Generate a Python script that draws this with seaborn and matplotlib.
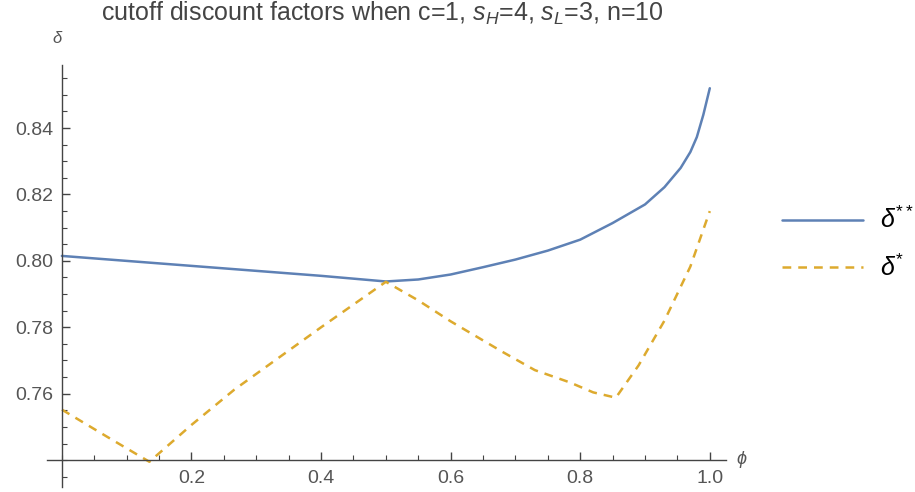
import numpy as np
import pandas as pd
import seaborn as sns
import matplotlib.pyplot as plt
from matplotlib.ticker import MultipleLocator, FormatStrFormatter

# values
phi_dd = [0.0, 0.1, 0.2, 0.3, 0.4, 0.5, 0.55, 0.6, 0.65, 0.7, 0.75, 0.8,
          0.85, 0.9, 0.93, 0.955, 0.97, 0.98, 0.99, 1.0]
delta_dd = [0.8015, 0.8000, 0.7985, 0.7970, 0.7955, 0.7938, 0.7944, 0.7959,
            0.7981, 0.8004, 0.8031, 0.8064, 0.8114, 0.8170, 0.8222, 0.8280,
            0.8328, 0.8373, 0.8440, 0.8520]

phi_d = [0.0, 0.07, 0.135, 0.2, 0.266, 0.4, 0.5, 0.55, 0.6, 0.68, 0.73,
         0.784, 0.82, 0.855, 0.89, 0.93, 0.97, 1.0]
delta_d = [0.7552, 0.7470, 0.7395, 0.7506, 0.7612, 0.7800, 0.7937, 0.7881,
           0.7818, 0.7726, 0.7671, 0.7634, 0.7604, 0.7588, 0.7685, 0.7820,
           0.7983, 0.8150]

title = "cutoff discount factors when c=1, $s_H$=4, $s_L$=3, n=10"
blue = "#5E81B5"
gold = "#DDAA2E"

sns.set_theme(style="white")
plt.rcParams['font.family'] = ['Liberation Sans', 'DejaVu Sans']
plt.rcParams['mathtext.fontset'] = 'custom'
plt.rcParams['mathtext.it'] = 'Liberation Sans:italic'
plt.rcParams['mathtext.rm'] = 'Liberation Sans'

fig = plt.figure(figsize=(9.15, 4.92), dpi=100)
ax = fig.add_axes([47 / 915, 5 / 492, 679 / 915, 422 / 492])

df_dd = pd.DataFrame({"phi": phi_dd, "delta": delta_dd})
df_d = pd.DataFrame({"phi": phi_d, "delta": delta_d})

sns.lineplot(data=df_dd, x="phi", y="delta", ax=ax, color=blue, lw=1.8,
             label=r"$\delta^{**}$", clip_on=False)
sns.lineplot(data=df_d, x="phi", y="delta", ax=ax, color=gold, lw=1.8,
             dashes=(3.5, 2.8), label=r"$\delta^{*}$", clip_on=False)

ax.set_xlim(-0.023, 1.025)
ax.set_ylim(0.7319, 0.859)

for s in ["top", "right"]:
    ax.spines[s].set_visible(False)
ax.spines["left"].set_position(("data", 0))
ax.spines["bottom"].set_position(("data", 0.74))
for s in ["left", "bottom"]:
    ax.spines[s].set_color("#444444")
    ax.spines[s].set_linewidth(1.0)

ax.set_xticks([0.2, 0.4, 0.6, 0.8, 1.0])
ax.set_yticks([0.76, 0.78, 0.80, 0.82, 0.84])
ax.xaxis.set_minor_locator(MultipleLocator(0.05))
ax.yaxis.set_minor_locator(MultipleLocator(0.005))
ax.yaxis.set_major_formatter(FormatStrFormatter("%.2f"))
ax.xaxis.set_major_formatter(FormatStrFormatter("%.1f"))

ax.tick_params(which="both", direction="in", bottom=True, left=True,
               colors="#444444", labelcolor="#555555", labelsize=14)
ax.tick_params(which="major", length=6, width=1.0)
ax.tick_params(which="minor", length=3.5, width=0.8)
ax.tick_params(axis="x", which="major", pad=7)
ax.tick_params(axis="y", which="major", pad=6)

ax.set_xlabel(r"$\phi$", fontsize=13, color="#555555")
ax.xaxis.set_label_coords((742 - 47) / 679, (487 - 460) / 422)
ax.xaxis.label.set_va("center")
ax.set_ylabel(r"$\delta$", fontsize=12, color="#555555", rotation=0)
ax.yaxis.set_label_coords((58 - 47) / 679, (487 - 38) / 422)
ax.yaxis.label.set_va("center")

fig.text(382 / 915, 1 - 13 / 492, title, ha="center", va="center",
         fontsize=18, color="#444444")

leg = ax.legend(loc="center left", bbox_to_anchor=(782 / 915, 1 - 244 / 492),
                bbox_transform=fig.transFigure, frameon=False, fontsize=18,
                handlelength=3.25, handletextpad=0.65, labelspacing=0.85,
                borderpad=0, borderaxespad=0)
for t in leg.get_texts():
    t.set_color("black")

fig.savefig("out.png", dpi=100)
